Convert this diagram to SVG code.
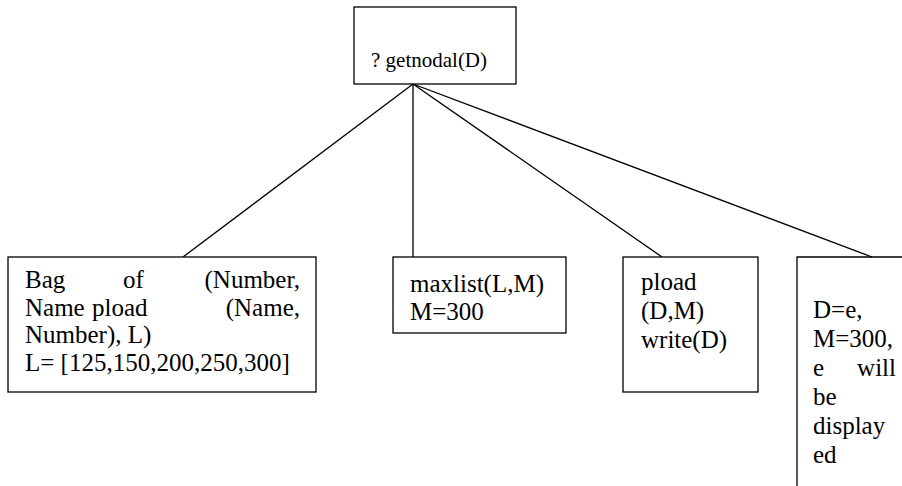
<svg xmlns="http://www.w3.org/2000/svg" width="902" height="486" viewBox="0 0 902 486">
  <style>
    .box { fill: #ffffff; stroke: #000000; stroke-width: 1.3; }
    .edge { stroke: #000000; stroke-width: 1.3; fill: none; }
    text { font-family: 'Liberation Serif', 'DejaVu Serif', serif; font-size: 25px; fill: #000000; }
    .end { text-anchor: end; }
    .root { font-size: 21px; }
  </style>
  <rect x="0" y="0" width="902" height="486" fill="#ffffff"/>

  <!-- connectors from the goal to each sub-step -->
  <g id="connectors">
    <line class="edge" x1="413" y1="84" x2="183" y2="257"/>
    <line class="edge" x1="413" y1="84" x2="413" y2="257"/>
    <line class="edge" x1="413" y1="84" x2="662" y2="257"/>
    <line class="edge" x1="413" y1="84" x2="872" y2="257"/>
  </g>

  <!-- goal -->
  <g id="goal">
    <rect class="box" x="354" y="7" width="162" height="77"/>
    <text class="root" x="371" y="67">? getnodal(D)</text>
  </g>

  <!-- bag of step -->
  <g id="bagof">
    <rect class="box" x="8" y="257" width="308" height="135"/>
    <text x="25" y="288">Bag</text>
    <text x="123" y="288">of</text>
    <text class="end" x="300" y="288">(Number,</text>
    <text x="25" y="315.5">Name</text>
    <text x="92" y="315.5">pload</text>
    <text class="end" x="300" y="315.5">(Name,</text>
    <text x="25" y="343">Number), L)</text>
    <text x="25" y="370.5">L= [125,150,200,250,300]</text>
  </g>

  <!-- maxlist step -->
  <g id="maxlist">
    <rect class="box" x="393" y="257" width="173" height="76"/>
    <text x="410" y="291.5">maxlist(L,M)</text>
    <text x="410" y="320">M=300</text>
  </g>

  <!-- pload / write step -->
  <g id="pload">
    <rect class="box" x="623" y="257" width="135" height="135"/>
    <text x="641" y="290">pload</text>
    <text x="641" y="319">(D,M)</text>
    <text x="641" y="348">write(D)</text>
  </g>

  <!-- result step, box runs past the page edge -->
  <g id="result">
    <path class="edge" d="M797 490 V257 H905"/>
    <text x="813" y="318">D=e,</text>
    <text x="813" y="347">M=300,</text>
    <text x="813" y="376">e</text>
    <text class="end" x="896" y="376">will</text>
    <text x="813" y="405">be</text>
    <text x="813" y="434">display</text>
    <text x="813" y="463">ed</text>
  </g>
</svg>
